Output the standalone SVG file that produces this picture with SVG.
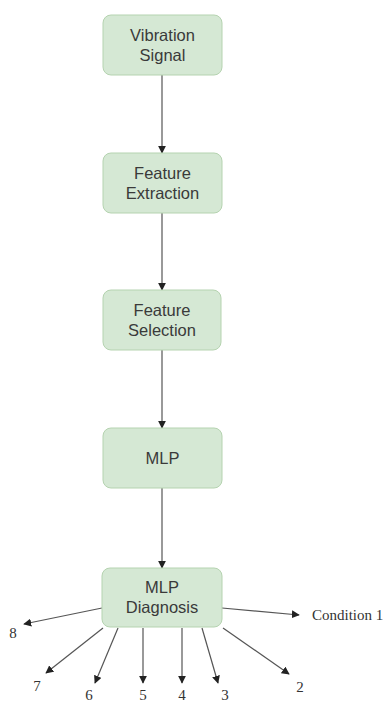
<svg xmlns="http://www.w3.org/2000/svg" width="389" height="702" viewBox="0 0 389 702">
<defs>
<marker id="ah" viewBox="0 0 10 10" refX="9" refY="5" markerWidth="8" markerHeight="8" markerUnits="userSpaceOnUse" orient="auto">
<path d="M0,0 L10,5 L0,10 z" fill="#222"/>
</marker>
<style>
.box{fill:#d5e8d4;stroke:#b5d3b0;stroke-width:1}
.lbl{font-family:"Liberation Sans",Arial,sans-serif;font-size:16.5px;fill:#3a3a3a;text-anchor:middle}
.num{font-family:"Liberation Serif","Times New Roman",serif;font-size:15px;fill:#333;text-anchor:middle}
.c{stroke:#555;stroke-width:1.2;fill:none;marker-end:url(#ah)}
</style>
</defs>
<rect width="389" height="702" fill="#fff"/>
<g id="connectors">
<line class="c" x1="162" y1="75" x2="162" y2="153"/>
<line class="c" x1="162" y1="213" x2="162" y2="290"/>
<line class="c" x1="162" y1="350" x2="162" y2="428"/>
<line class="c" x1="162" y1="488" x2="162" y2="568"/>
<line class="c" x1="222" y1="608" x2="299" y2="615"/>
<line class="c" x1="102" y1="608" x2="24" y2="624"/>
<line class="c" x1="103" y1="628" x2="46" y2="673"/>
<line class="c" x1="118" y1="628" x2="95" y2="683"/>
<line class="c" x1="143" y1="628" x2="143" y2="683"/>
<line class="c" x1="182" y1="628" x2="182" y2="683"/>
<line class="c" x1="202" y1="628" x2="218" y2="683"/>
<line class="c" x1="223" y1="628" x2="289" y2="674"/>
</g>
<g id="vibration-signal">
<rect class="box" x="103" y="15" width="119" height="60" rx="8"/>
<text class="lbl" x="162.5" y="41">Vibration</text>
<text class="lbl" x="162.5" y="61">Signal</text>
</g>
<g id="feature-extraction">
<rect class="box" x="103" y="153" width="119" height="60" rx="8"/>
<text class="lbl" x="162.5" y="179">Feature</text>
<text class="lbl" x="162.5" y="199">Extraction</text>
</g>
<g id="feature-selection">
<rect class="box" x="103" y="290" width="118" height="60" rx="8"/>
<text class="lbl" x="162" y="316">Feature</text>
<text class="lbl" x="162" y="336">Selection</text>
</g>
<g id="mlp">
<rect class="box" x="103" y="428" width="119" height="60" rx="8"/>
<text class="lbl" x="162.5" y="464">MLP</text>
</g>
<g id="mlp-diagnosis">
<rect class="box" x="102" y="568" width="120" height="59" rx="8"/>
<text class="lbl" x="162" y="593">MLP</text>
<text class="lbl" x="162" y="613">Diagnosis</text>
</g>
<g id="outputs">
<text class="num" x="312" y="620" style="text-anchor:start">Condition 1</text>
<text class="num" x="13" y="638">8</text>
<text class="num" x="37" y="691">7</text>
<text class="num" x="89" y="700">6</text>
<text class="num" x="143" y="700">5</text>
<text class="num" x="182" y="700">4</text>
<text class="num" x="225" y="700">3</text>
<text class="num" x="300" y="692">2</text>
</g>
</svg>
